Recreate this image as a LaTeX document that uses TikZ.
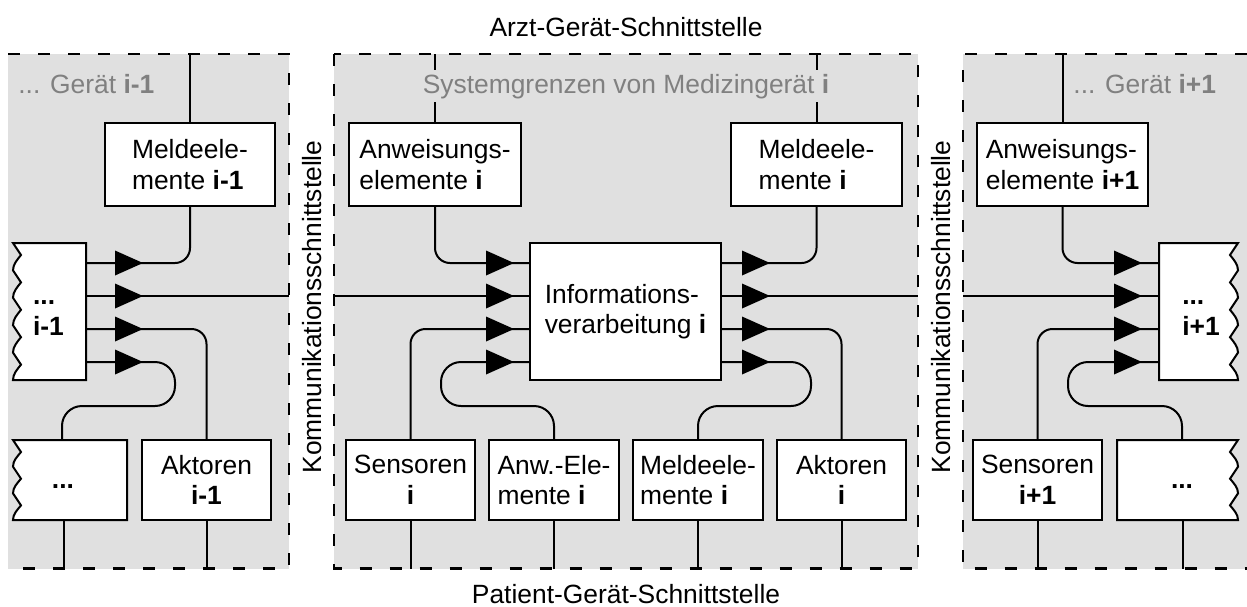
\documentclass[tikz,border=0pt]{standalone}
\usepackage{fontspec}
\setmainfont{Liberation Sans}
\definecolor{panelgray}{RGB}{224,224,224}
\definecolor{titlegray}{RGB}{128,128,128}
\pgfdeclarelayer{panellayer}
\pgfdeclarelayer{linelayer}
\pgfsetlayers{panellayer,linelayer,main}
\tikzset{
  txt/.style={font=\fontsize{13.2}{15.25}\selectfont, inner sep=0pt},
  box/.style={txt, draw, fill=white, line width=1pt},
  conn/.style={line width=1pt, rounded corners=7.5pt},
  loopconn/.style={line width=1pt, rounded corners=10pt},
  jag/.style={draw, fill=white, line width=1pt},
  border/.style={line width=1.2pt, dash pattern=on 6pt off 9pt},
  tri/.pic={\fill (0,0) -- (-28,-12.5) -- (-28,12.5) -- cycle;},
}
\begin{document}
\begin{tikzpicture}[x=0.5pt,y=-0.5pt]
\useasboundingbox (0,0) rectangle (1247,606);
% panels
\begin{pgfonlayer}{panellayer}
\fill[panelgray] (8,54) rectangle (289,568.5);
\fill[panelgray] (334,54) rectangle (918,568.5);
\fill[panelgray] (963,54) rectangle (1247,568.5);
\end{pgfonlayer}
% reference coordinates
\coordinate (top) at (0,54);
\coordinate (bot) at (0,568.5);
\coordinate (r1) at (0,263);
\coordinate (r2) at (0,296);
\coordinate (r3) at (0,329);
\coordinate (r4) at (0,362);
% ---------- boxes ----------
% left panel
\node[box, minimum width=85pt, minimum height=41.5pt, align=left] (meldeL) at (190,164.5) {Meldeele-\\mente \textbf{i-1}};
\node[box, minimum width=64.5pt, minimum height=40pt, align=center] (aktL) at (206.5,480) {Aktoren\\\textbf{i-1}};
\coordinate (L1) at (86,263);
\coordinate (L2) at (86,296);
\coordinate (L3) at (86,329);
\coordinate (L4) at (86,362);
\coordinate (bL) at (289,296);
\coordinate (dLBtop) at (62,440);
\coordinate (dLBbot) at (64,520);
% middle panel
\node[box, minimum width=86pt, minimum height=41.5pt, align=left] (anwI) at (435,164.5) {Anweisungs-\\elemente \textbf{i}};
\node[box, minimum width=85.5pt, minimum height=41.5pt, align=left] (meldeI) at (816.5,164.5) {Meldeele-\\mente \textbf{i}};
\node[box, minimum width=95.5pt, minimum height=68.5pt, align=left] (info) at (625.5,311.5) {Informations-\\verarbeitung \textbf{i}};
\node[box, minimum width=64.5pt, minimum height=40pt, align=center] (sensI) at (410.5,480) {Sensoren\\\textbf{i}};
\node[box, minimum width=65pt, minimum height=40pt, align=left] (anwE) at (554,480) {Anw.-Ele-\\mente \textbf{i}};
\node[box, minimum width=65pt, minimum height=40pt, align=left] (meldeB) at (698,480) {Meldeele-\\mente \textbf{i}};
\node[box, minimum width=64.5pt, minimum height=40pt, align=center] (aktI) at (841.5,480) {Aktoren\\\textbf{i}};
\coordinate (bM1) at (334,296);
\coordinate (bM2) at (918,296);
% right panel
\node[box, minimum width=85.5pt, minimum height=41.5pt, align=left] (anwR) at (1062.5,164.5) {Anweisungs-\\elemente \textbf{i+1}};
\node[box, minimum width=64.5pt, minimum height=40pt, align=center] (sensR) at (1037.5,480) {Sensoren\\\textbf{i+1}};
\coordinate (R1) at (1159,263);
\coordinate (R2) at (1159,296);
\coordinate (R3) at (1159,329);
\coordinate (R4) at (1159,362);
\coordinate (bR) at (963,296);
\coordinate (dRBtop) at (1182,440);
\coordinate (dRBbot) at (1183,520);
% ---------- connectors (below the boxes) ----------
\begin{pgfonlayer}{linelayer}
% left
\draw[conn] (meldeL.north) -- (meldeL.north |- top);
\draw[conn] (meldeL.south) |- (L1);
\draw[conn] (L2) -- (bL);
\draw[conn] (L3) -| (aktL.north);
\draw[loopconn] (L4) -- (175,362) -- (175,406) -- (62,406) -- (dLBtop);
\draw[conn] (dLBbot) -- (dLBbot |- bot);
\draw[conn] (aktL.south) -- (aktL.south |- bot);
% middle inputs
\draw[conn] (anwI.north) -- (anwI.north |- top);
\draw[conn] (anwI.south) |- (info.west |- r1);
\draw[conn] (bM1) -- (info.west |- r2);
\draw[conn] (sensI.north) |- (info.west |- r3);
\draw[loopconn] (anwE.north) -- (554,406) -- (441,406) -- (441,362) -- (info.west |- r4);
% middle outputs
\draw[conn] (meldeI.north) -- (meldeI.north |- top);
\draw[conn] (info.east |- r1) -| (meldeI.south);
\draw[conn] (info.east |- r2) -- (bM2);
\draw[conn] (info.east |- r3) -| (aktI.north);
\draw[loopconn] (info.east |- r4) -- (811,362) -- (811,406) -- (698,406) -- (meldeB.north);
\draw[conn] (sensI.south) -- (sensI.south |- bot);
\draw[conn] (anwE.south) -- (anwE.south |- bot);
\draw[conn] (meldeB.south) -- (meldeB.south |- bot);
\draw[conn] (aktI.south) -- (aktI.south |- bot);
% right
\draw[conn] (anwR.north) -- (anwR.north |- top);
\draw[conn] (anwR.south) |- (R1);
\draw[conn] (bR) -- (R2);
\draw[conn] (sensR.north) |- (R3);
\draw[loopconn] (dRBtop) -- (1182,406) -- (1068,406) -- (1068,362) -- (R4);
\draw[conn] (sensR.south) -- (sensR.south |- bot);
\draw[conn] (dRBbot) -- (dRBbot |- bot);
\end{pgfonlayer}
% jagged boxes
\draw[jag] (86,243) -- (13,243) \foreach \i in {1,...,5}{ -- ++(8,12) .. controls +(-4,5) and +(0,-6) .. ++(-8,15.4) } -- (86,380) -- cycle;
\node[txt, align=left] (dotsL) at (48.5,318) {\textbf{...}\\\textbf{i-1}};
\draw[jag] (127,440) -- (13,440) \foreach \i in {1,...,3}{ -- ++(8,12) .. controls +(-4,5) and +(0,-6) .. ++(-8,14.67) } -- (127,520) -- cycle;
\node[txt] (dotsLB) at (63,487) {\textbf{...}};
\draw[jag] (1159,243) -- (1238,243) \foreach \i in {1,...,5}{ -- ++(-8,12) .. controls +(4,5) and +(0,-6) .. ++(8,15.4) } -- (1159,380) -- cycle;
\node[txt, align=left] (dotsR) at (1201,318) {\textbf{...}\\\textbf{i+1}};
\draw[jag] (1117,440) -- (1238,440) \foreach \i in {1,...,3}{ -- ++(-8,12) .. controls +(4,5) and +(0,-6) .. ++(8,14.67) } -- (1117,520) -- cycle;
\node[txt] (dotsRB) at (1182,487) {\textbf{...}};
% arrowheads
\foreach \y in {263,296,329,362}{
  \pic at (143,\y) {tri};
  \pic at (514,\y) {tri};
  \pic at (770,\y) {tri};
  \pic at (1142,\y) {tri};
}
% borders
\draw[border] (8,54) -- (289,54) -- (289,568.5) -- (8,568.5);
\draw[border] (334,54) rectangle (918,568.5);
\draw[border] (1247,54) -- (963,54) -- (963,568.5) -- (1247,568.5);
% titles and labels
\node[txt, text=titlegray, anchor=base west] (tL) at (18,93) {... Gerät \textbf{i-1}};
\node[txt, text=titlegray, anchor=base, fill=panelgray, inner xsep=1pt, inner ysep=2pt] (tM) at (626,93) {Systemgrenzen von Medizingerät \textbf{i}};
\node[txt, text=titlegray, anchor=base west] (tR) at (1073,93) {... Gerät \textbf{i+1}};
\node[txt, anchor=base] (arzt) at (626,36) {Arzt-Gerät-Schnittstelle};
\node[txt, anchor=base] (pat) at (626,603) {Patient-Gerät-Schnittstelle};
\node[txt, rotate=90] (k1) at (312,307) {Kommunikationsschnittstelle};
\node[txt, rotate=90] (k2) at (941,307) {Kommunikationsschnittstelle};
\end{tikzpicture}
\end{document}
